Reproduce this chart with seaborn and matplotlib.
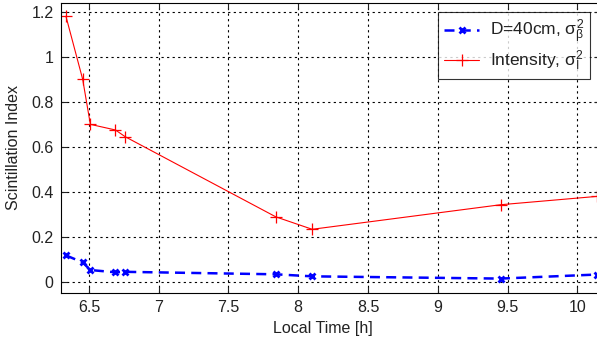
import matplotlib
matplotlib.use("Agg")
import matplotlib.pyplot as plt
import seaborn as sns
import pandas as pd

time_h = [6.335, 6.455, 6.51, 6.69, 6.76, 7.84, 8.10, 9.45, 10.14]
phase_si = [0.118, 0.087, 0.053, 0.043, 0.045, 0.034, 0.025, 0.015, 0.033]
intensity_si = [1.18, 0.90, 0.70, 0.675, 0.645, 0.289, 0.234, 0.343, 0.38]
xticks = [6.5, 7, 7.5, 8, 8.5, 9, 9.5, 10]
yticks = [0, 0.2, 0.4, 0.6, 0.8, 1.0, 1.2]
ytick_labels = ["0", "0.2", "0.4", "0.6", "0.8", "1", "1.2"]

sns.set_style("white")
plt.rcParams['font.family'] = ['Liberation Sans', 'DejaVu Sans']
plt.rcParams['mathtext.fontset'] = 'custom'
plt.rcParams['mathtext.rm'] = 'Liberation Sans'
plt.rcParams['mathtext.it'] = 'Liberation Sans'

df = pd.DataFrame({"t": time_h, "p": phase_si, "i": intensity_si})

fig = plt.figure(figsize=(5.97, 3.47), dpi=100)
W, H = 597, 347
left, right, top, bottom = 60.5, 600, 3, 293
ax = fig.add_axes([left / W, (H - bottom) / H, (right - left) / W, (bottom - top) / H])

sns.lineplot(data=df, x="t", y="p", ax=ax, color="#0000ff", linestyle="--", lw=1.8,
             marker="x", markersize=4, markeredgewidth=2, markeredgecolor="#0000ff",
             estimator=None, sort=False, label=r"D=40cm, $\sigma_\beta^2$", dashes=False)
ax.lines[-1].set_dashes([4, 2.5])
sns.lineplot(data=df, x="t", y="i", ax=ax, color="#ff0000", lw=0.8,
             marker="+", markersize=9, markeredgewidth=0.9, markeredgecolor="#ff0000",
             estimator=None, sort=False, label=r"Intensity, $\sigma_I^2$")

ax.set_xlim(6.296, 10.163)
ax.set_ylim(-0.049, 1.239)
ax.set_xticks(xticks)
ax.set_xticklabels([("%g" % v) for v in xticks])
ax.set_yticks(yticks)
ax.set_yticklabels(ytick_labels)
ax.grid(True, color="black", linestyle=(0, (2, 3)), linewidth=0.8)
ax.tick_params(direction="in", length=4, width=0.8, labelsize=11.5, colors="#222222",
               top=True, right=True, bottom=True, left=True, pad=5)
for s in ax.spines.values():
    s.set_color("black")
    s.set_linewidth(0.8)

ax.set_xlabel("Local Time [h]", fontsize=11.5, color="#222222")
ax.set_ylabel("Scintillation Index", fontsize=11.5, color="#222222")
ax.xaxis.set_label_coords((323 - left) / (right - left), -(329 - bottom) / (bottom - top), transform=ax.transAxes)
ax.xaxis.label.set_va("center")
ax.yaxis.set_label_coords(-(left - 14) / (right - left), 0.5, transform=ax.transAxes)
ax.yaxis.label.set_va("center")

leg = ax.legend(loc="upper right", bbox_to_anchor=((590 - left) / (right - left), 1 - (11.7 - top) / (bottom - top)),
                fontsize=12.5, frameon=True, fancybox=False, edgecolor="black",
                handlelength=2.0, handletextpad=0.6, borderaxespad=0, labelspacing=0.15, borderpad=0.35)
leg.get_frame().set_linewidth(0.8)
for t in leg.get_texts():
    t.set_color("#222222")

fig.savefig("out.png", dpi=100)
